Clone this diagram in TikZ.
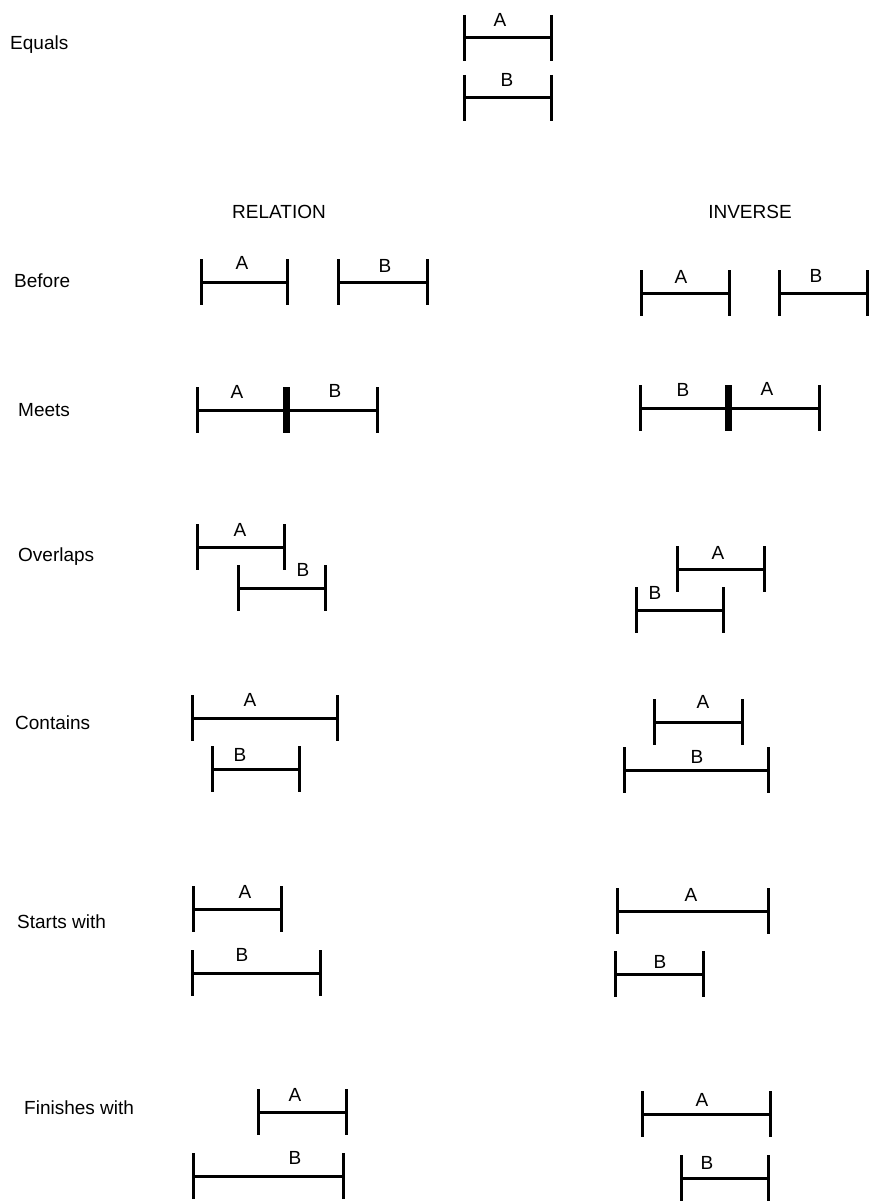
\documentclass[tikz,border=0pt]{standalone}
\usepackage{fontspec}
\setmainfont{Liberation Sans}
\usepackage{tikz}

% one interval: name, left x, right x, line y, label x, label y, label
\newcommand{\ivl}[7]{%
  \draw[bar] (#2,#4-23) -- (#2,#4+23);
  \draw[bar] (#3,#4-23) -- (#3,#4+23);
  \draw[bar] (#2,#4) -- (#3,#4);
  \node[lbl] (#1) at (#5,#6) {#7};
}

\begin{document}
\begin{tikzpicture}[x=1pt, y=-1pt,
  every node/.style={font=\fontsize{19}{22}\selectfont, inner sep=0pt},
  bar/.style={line width=3pt},
  meet/.style={line width=7pt},
  lbl/.style={anchor=center},
  rowname/.style={anchor=west}]
\useasboundingbox[fill=white] (0,0) rectangle (874,1204);

% row names
\node[rowname] (equals) at (10,45) {Equals};
\node[rowname] (before) at (14,281) {Before};
\node[rowname] (meets) at (18,410) {Meets};
\node[rowname] (overlaps) at (18,557) {Overlaps};
\node[rowname] (contains) at (15,723) {Contains};
\node[rowname] (starts) at (17,922) {Starts with};
\node[rowname] (finishes) at (24,1108) {Finishes with};

% column heads
\node (relation) at (279,212) {RELATION};
\node (inverse) at (750,212) {INVERSE};

% equals
\ivl{eqA}{464}{551}{38}{500}{20}{A}
\ivl{eqB}{464}{551}{98}{507}{80}{B}

% before
\ivl{befA}{201}{287}{282}{242}{263}{A}
\ivl{befB}{338}{427}{282}{385}{266}{B}
\ivl{ibefA}{641}{729}{293}{681}{277}{A}
\ivl{ibefB}{779}{867}{293}{816}{276}{B}

% meets
\ivl{meA}{197}{286}{410}{237}{392}{A}
\ivl{meB}{286}{377}{410}{335}{391}{B}
\draw[meet] (286,387) -- (286,433);
\ivl{imeB}{640}{728}{408}{683}{390}{B}
\ivl{imeA}{728}{819}{408}{767}{389}{A}
\draw[meet] (728,385) -- (728,431);

% overlaps
\ivl{ovA}{197}{284}{547}{240}{530}{A}
\ivl{ovB}{238}{325}{588}{303}{570}{B}
\ivl{iovA}{677}{764}{569}{718}{553}{A}
\ivl{iovB}{636}{723}{610}{655}{593}{B}

% contains
\ivl{coA}{192}{337}{718}{250}{700}{A}
\ivl{coB}{212}{299}{769}{240}{755}{B}
\ivl{icoA}{654}{742}{722}{703}{702}{A}
\ivl{icoB}{624}{768}{770}{697}{757}{B}

% starts with
\ivl{stA}{193}{281}{909}{245}{892}{A}
\ivl{stB}{192}{320}{973}{242}{955}{B}
\ivl{istA}{617}{768}{911}{691}{895}{A}
\ivl{istB}{615}{703}{974}{660}{962}{B}

% finishes with
\ivl{fiA}{258}{346}{1112}{295}{1095}{A}
\ivl{fiB}{193}{343}{1176}{295}{1158}{B}
\ivl{ifiA}{642}{770}{1114}{702}{1100}{A}
\ivl{ifiB}{681}{768}{1178}{707}{1163}{B}
\end{tikzpicture}
\end{document}
